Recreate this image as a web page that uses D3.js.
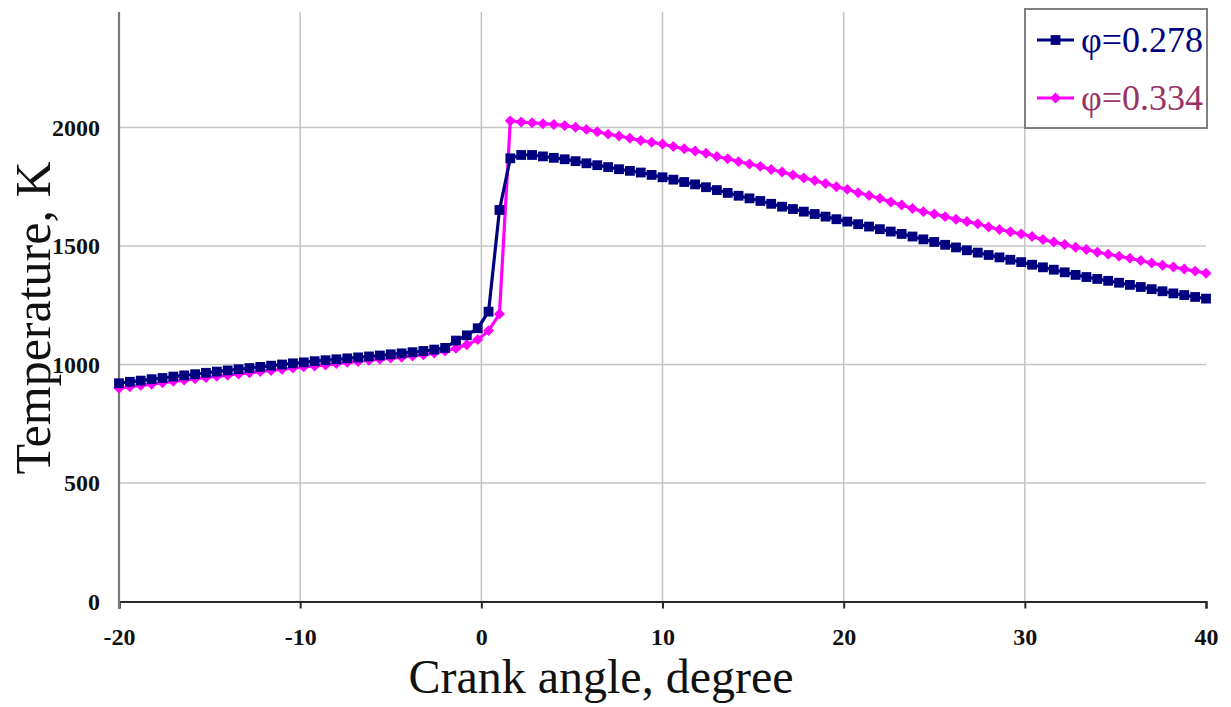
<!DOCTYPE html>
<html>
<head>
<meta charset="utf-8">
<script src="https://cdn.jsdelivr.net/npm/d3@7"></script>
<style>
  html, body { margin: 0; padding: 0; background: #ffffff; }
  svg { display: block; }
  .tick text { font-family: "Liberation Serif", "Times New Roman", serif; font-weight: bold; font-size: 24px; fill: #111; }
</style>
</head>
<body>
<svg id="chart" width="1231" height="707"></svg>
<script>
// Crank angle (degree) at each computed point
const angles = [
  -20, -19.4, -18.8, -18.2, -17.6, -17, -16.4, -15.8, -15.2, -14.6,
  -14, -13.4, -12.8, -12.2, -11.6, -11, -10.4, -9.8, -9.2, -8.6,
  -8, -7.4, -6.8, -6.2, -5.6, -5, -4.4, -3.8, -3.2, -2.6,
  -2, -1.4, -0.8, -0.2, 0.4, 1, 1.6, 2.2, 2.8, 3.4,
  4, 4.6, 5.2, 5.8, 6.4, 7, 7.6, 8.2, 8.8, 9.4,
  10, 10.6, 11.2, 11.8, 12.4, 13, 13.6, 14.2, 14.8, 15.4,
  16, 16.6, 17.2, 17.8, 18.4, 19, 19.6, 20.2, 20.8, 21.4,
  22, 22.6, 23.2, 23.8, 24.4, 25, 25.6, 26.2, 26.8, 27.4,
  28, 28.6, 29.2, 29.8, 30.4, 31, 31.6, 32.2, 32.8, 33.4,
  34, 34.6, 35.2, 35.8, 36.4, 37, 37.6, 38.2, 38.8, 39.4,
  40
];

// In-cylinder temperature (K), equivalence ratio 0.278
const tempPhi0278 = [
  921, 927, 932, 938, 943, 949, 954, 959, 965, 970,
  975, 980, 985, 990, 995, 1000, 1005, 1009, 1014, 1018,
  1022, 1026, 1030, 1034, 1038, 1043, 1047, 1052, 1057, 1063,
  1070, 1101, 1123, 1153, 1223, 1652, 1870, 1884, 1884, 1878,
  1872, 1866, 1858, 1849, 1841, 1833, 1824, 1817, 1810, 1800,
  1790, 1780, 1770, 1760, 1748, 1736, 1724, 1712, 1701, 1690,
  1678, 1666, 1656, 1645, 1635, 1624, 1613, 1603, 1592, 1582,
  1571, 1561, 1551, 1540, 1528, 1517, 1505, 1494, 1482, 1472,
  1462, 1452, 1442, 1432, 1421, 1410, 1400, 1389, 1378, 1369,
  1361, 1353, 1345, 1336, 1327, 1318, 1309, 1300, 1293, 1285,
  1278
];

// In-cylinder temperature (K), equivalence ratio 0.334
const tempPhi0334 = [
  900, 906, 912, 917, 923, 929, 934, 940, 945, 950,
  955, 960, 965, 970, 975, 980, 985, 990, 994, 998,
  1004, 1009, 1013, 1018, 1022, 1027, 1031, 1036, 1041, 1048,
  1057, 1068, 1083, 1105, 1143, 1213, 2028, 2023, 2020, 2016,
  2013, 2008, 2001, 1992, 1982, 1972, 1964, 1955, 1945, 1938,
  1930, 1920, 1910, 1901, 1891, 1878, 1868, 1856, 1846, 1836,
  1823, 1812, 1800, 1787, 1776, 1764, 1750, 1739, 1725, 1713,
  1701, 1686, 1673, 1658, 1645, 1635, 1624, 1613, 1603, 1594,
  1580, 1570, 1560, 1551, 1540, 1527, 1517, 1506, 1495, 1485,
  1474, 1465, 1457, 1448, 1439, 1428, 1419, 1411, 1403, 1394,
  1385
];

const seriesNames = ["\u03C6=0.278", "\u03C6=0.334"];
const xTicks = [-20, -10, 0, 10, 20, 30, 40];
const yTicks = [0, 500, 1000, 1500, 2000];
const xTitle = "Crank angle, degree";
const yTitle = "Temperature, K";

const svg = d3.select("#chart");
const plotLeft = 119, plotRight = 1206, plotTop = 9, plotBottom = 601.5;

const x = d3.scaleLinear().domain([-20, 40]).range([plotLeft, plotRight]);
const y = d3.scaleLinear().domain([0, 2500]).range([plotBottom, plotTop]);
const plainNumber = d => String(d);

// grid
const grid = svg.append("g");
grid.selectAll("line.h").data(yTicks.filter(d => d > 0)).enter().append("line")
  .attr("x1", plotLeft).attr("x2", plotRight)
  .attr("y1", d => y(d)).attr("y2", d => y(d))
  .attr("stroke", "#c4c4c4").attr("stroke-width", 1.5);
grid.selectAll("line.v").data(xTicks.filter(d => d > -20 && d < 40)).enter().append("line")
  .attr("x1", d => x(d)).attr("x2", d => x(d))
  .attr("y1", y(2500) + 3).attr("y2", plotBottom)
  .attr("stroke", "#c4c4c4").attr("stroke-width", 1.5);

// axes
const xAxis = svg.append("g").attr("transform", `translate(0,${plotBottom})`)
  .call(d3.axisBottom(x).tickValues(xTicks).tickSize(7).tickPadding(19).tickFormat(plainNumber));
xAxis.select(".domain").attr("stroke", "#2a2a2a").attr("stroke-width", 2.2);
xAxis.selectAll(".tick line").attr("stroke", "#2a2a2a").attr("stroke-width", 2);

const yAxis = svg.append("g").attr("transform", `translate(${plotLeft},0)`)
  .call(d3.axisLeft(y).tickValues(yTicks).tickSize(0).tickPadding(19).tickFormat(plainNumber));
yAxis.select(".domain").remove();
svg.append("line")
  .attr("x1", plotLeft).attr("x2", plotLeft)
  .attr("y1", y(2500) + 3).attr("y2", plotBottom + 7)
  .attr("stroke", "#7a7a7a").attr("stroke-width", 2.2);

// series
const series = [
  { name: seriesNames[0], values: tempPhi0278, color: "#000080", text: "#000080", symbol: d3.symbolSquare, size: 96, rotate: 0 },
  { name: seriesNames[1], values: tempPhi0334, color: "#ff00ff", text: "#993366", symbol: d3.symbolSquare, size: 60, rotate: 45 }
];

const line = d3.line().x(d => x(d[0])).y(d => y(d[1]));

// magenta series underneath, navy series on top
[series[1], series[0]].forEach(s => {
  const pts = angles.map((a, i) => [a, s.values[i]]);
  svg.append("path").datum(pts)
    .attr("d", line)
    .attr("fill", "none")
    .attr("stroke", s.color)
    .attr("stroke-width", 3.2);
  svg.append("g").selectAll("path").data(pts).enter().append("path")
    .attr("d", d3.symbol().type(s.symbol).size(s.size))
    .attr("transform", d => `translate(${x(d[0])},${y(d[1])}) rotate(${s.rotate})`)
    .attr("fill", s.color);
});

// axis titles
svg.append("text")
  .attr("x", 601).attr("y", 693)
  .attr("text-anchor", "middle")
  .attr("font-family", "'Liberation Serif', 'Times New Roman', serif")
  .attr("font-size", 48)
  .attr("fill", "#111")
  .text(xTitle);

svg.append("text")
  .attr("transform", "translate(50,318) rotate(-90)")
  .attr("text-anchor", "middle")
  .attr("font-family", "'Liberation Serif', 'Times New Roman', serif")
  .attr("font-size", 50)
  .attr("fill", "#111")
  .text(yTitle);

// legend
const lg = svg.append("g");
lg.append("rect")
  .attr("x", 1025).attr("y", 9).attr("width", 182).attr("height", 119)
  .attr("fill", "#ffffff").attr("stroke", "#808080").attr("stroke-width", 2);
series.forEach((s, i) => {
  const cy = 40 + i * 58;
  lg.append("line").attr("x1", 1037).attr("x2", 1074).attr("y1", cy).attr("y2", cy)
    .attr("stroke", s.color).attr("stroke-width", 3.2);
  lg.append("path")
    .attr("d", d3.symbol().type(s.symbol).size(s.size))
    .attr("transform", `translate(1055.5,${cy}) rotate(${s.rotate})`)
    .attr("fill", s.color);
  lg.append("text")
    .attr("x", 1081).attr("y", cy + 12)
    .attr("font-family", "'Liberation Serif', 'Times New Roman', serif")
    .attr("font-size", 36)
    .attr("fill", s.text)
    .text(s.name);
});
</script>
</body>
</html>
